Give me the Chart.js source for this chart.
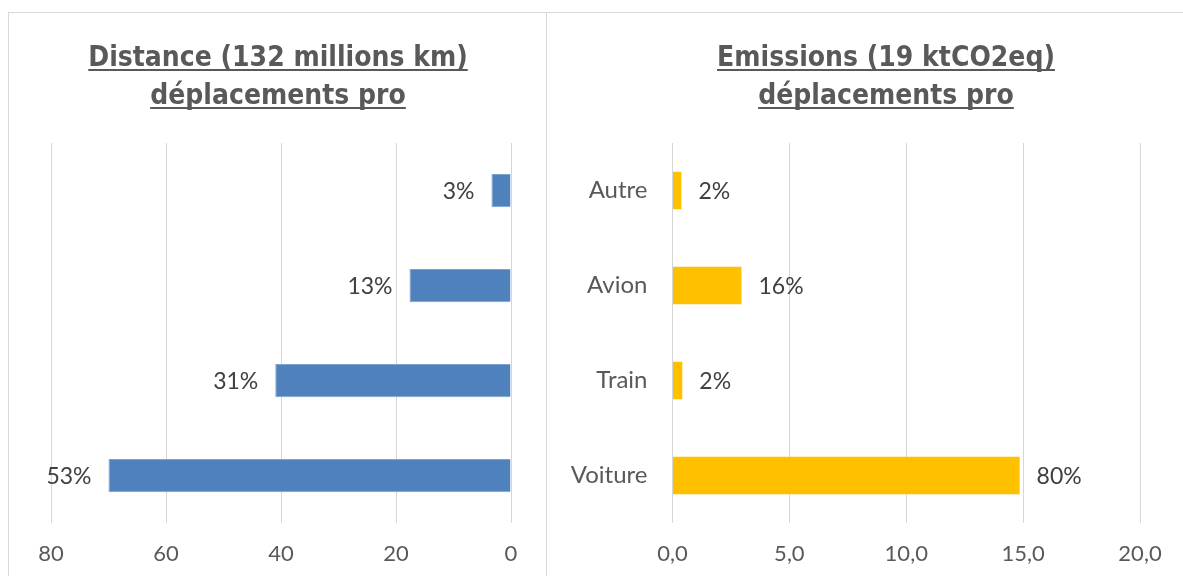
<!DOCTYPE html>
<html>
<head>
<meta charset="utf-8">
<script src="https://cdn.jsdelivr.net/npm/chart.js@4"></script>
<style>
  html, body { margin: 0; padding: 0; background: #ffffff; }
  #wrap { position: relative; width: 1183px; height: 576px; overflow: hidden; }
  .frame { position: absolute; border: 1px solid #D9D9D9; box-sizing: border-box; }
  canvas { position: absolute; top: 0; }
</style>
</head>
<body>
<div id="wrap">
  <div class="frame" style="left:8px;top:12px;width:539px;height:620px"></div>
  <div class="frame" style="left:546px;top:12px;width:720px;height:620px"></div>
  <canvas id="dist" width="546" height="576" style="left:0"></canvas>
  <canvas id="emis" width="637" height="576" style="left:546px"></canvas>
</div>
<script>
// Modes de transport (du haut vers le bas)
const categories = ['Autre', 'Avion', 'Train', 'Voiture'];

// Distance parcourue en déplacements pro (millions de km)
const distanceValues = [3.4, 17.65, 41.0, 70.0];
const distanceTicks = [0, 20, 40, 60, 80];
const distanceTitle = ['Distance (132 millions km)', 'déplacements pro'];

// Emissions des déplacements pro (ktCO2eq)
const emissionValues = [0.38, 2.95, 0.42, 14.85];
const emissionTicks = [0, 5, 10, 15, 20];
const emissionTitle = ['Emissions (19 ktCO2eq)', 'déplacements pro'];

const FONT = 'Lato, "Open Sans", sans-serif';
const GRID = '#D6D6D6';
const TICK_COLOR = '#595959';

function sharePct(values) {
  const total = values.reduce((a, b) => a + b, 0);
  return values.map(v => Math.round(v / total * 100) + '%');
}

// Titre souligné sur deux lignes
const panelTitle = {
  id: 'panelTitle',
  afterDraw(chart, args, opts) {
    const ctx = chart.ctx;
    ctx.save();
    ctx.font = 'bold 28px "Liberation Sans Narrow", "DejaVu Sans Condensed", sans-serif';
    ctx.fillStyle = '#595959';
    ctx.strokeStyle = '#595959';
    ctx.textAlign = 'center';
    ctx.textBaseline = 'alphabetic';
    ctx.lineWidth = 2;
    opts.lines.forEach((line, i) => {
      const y = opts.baselines[i];
      ctx.fillText(line, opts.cx, y);
      const w = ctx.measureText(line).width;
      ctx.beginPath();
      ctx.moveTo(opts.cx - w / 2, y + 4);
      ctx.lineTo(opts.cx + w / 2, y + 4);
      ctx.stroke();
    });
    ctx.restore();
  }
};

// Part en % à l'extrémité de chaque barre
const barShare = {
  id: 'barShare',
  afterDatasetsDraw(chart, args, opts) {
    const ctx = chart.ctx;
    const meta = chart.getDatasetMeta(0);
    const labels = sharePct(chart.data.datasets[0].data);
    ctx.save();
    ctx.font = '23px ' + FONT;
    ctx.fillStyle = '#404040';
    ctx.textBaseline = 'middle';
    meta.data.forEach((bar, i) => {
      if (opts.side === 'start') {
        ctx.textAlign = 'right';
        ctx.fillText(labels[i], bar.x - opts.gap, bar.y + 1.5);
      } else {
        ctx.textAlign = 'left';
        ctx.fillText(labels[i], bar.x + opts.gap, bar.y + 1.5);
      }
    });
    ctx.restore();
  }
};

function xScale(ticks, reverse, fmt) {
  return {
    type: 'linear',
    position: 'bottom',
    reverse: reverse,
    min: ticks[0],
    max: ticks[ticks.length - 1],
    afterBuildTicks(scale) { scale.ticks = ticks.map(v => ({ value: v })); },
    afterFit(scale) { scale.height = 53; },
    grid: { color: GRID, lineWidth: 1, drawTicks: false },
    border: { display: false },
    ticks: {
      padding: 18,
      color: TICK_COLOR,
      font: { family: FONT, size: 22 },
      callback: fmt
    }
  };
}

new Chart(document.getElementById('dist'), {
  type: 'bar',
  data: {
    labels: categories,
    datasets: [{
      data: distanceValues,
      backgroundColor: '#4F81BD',
      borderColor: '#7EA3D0',
      borderWidth: 1,
      barPercentage: 0.35,
      categoryPercentage: 1
    }]
  },
  options: {
    indexAxis: 'y',
    responsive: false,
    animation: false,
    layout: { padding: { top: 143, left: 51, right: 35, bottom: 0 } },
    scales: {
      x: xScale(distanceTicks, true, v => String(v)),
      y: { display: false }
    },
    plugins: {
      legend: { display: false },
      tooltip: { enabled: false },
      panelTitle: { lines: distanceTitle, cx: 278, baselines: [66, 104] },
      barShare: { side: 'start', gap: 17 }
    }
  },
  plugins: [panelTitle, barShare]
});

new Chart(document.getElementById('emis'), {
  type: 'bar',
  data: {
    labels: categories,
    datasets: [{
      data: emissionValues,
      backgroundColor: '#FFC000',
      borderWidth: 0,
      barPercentage: 0.394,
      categoryPercentage: 1
    }]
  },
  options: {
    indexAxis: 'y',
    responsive: false,
    animation: false,
    layout: { padding: { top: 143, left: 0, right: 43, bottom: 0 } },
    scales: {
      x: xScale(emissionTicks, false, v => v.toFixed(1).replace('.', ',')),
      y: {
        afterFit(scale) { scale.width = 126.5; },
        grid: { display: false, drawTicks: false },
        border: { display: false },
        ticks: {
          padding: 25,
          color: TICK_COLOR,
          font: { family: FONT, size: 24 }
        }
      }
    },
    plugins: {
      legend: { display: false },
      tooltip: { enabled: false },
      panelTitle: { lines: emissionTitle, cx: 340, baselines: [66, 104] },
      barShare: { side: 'end', gap: 17 }
    }
  },
  plugins: [panelTitle, barShare]
});
</script>
</body>
</html>
